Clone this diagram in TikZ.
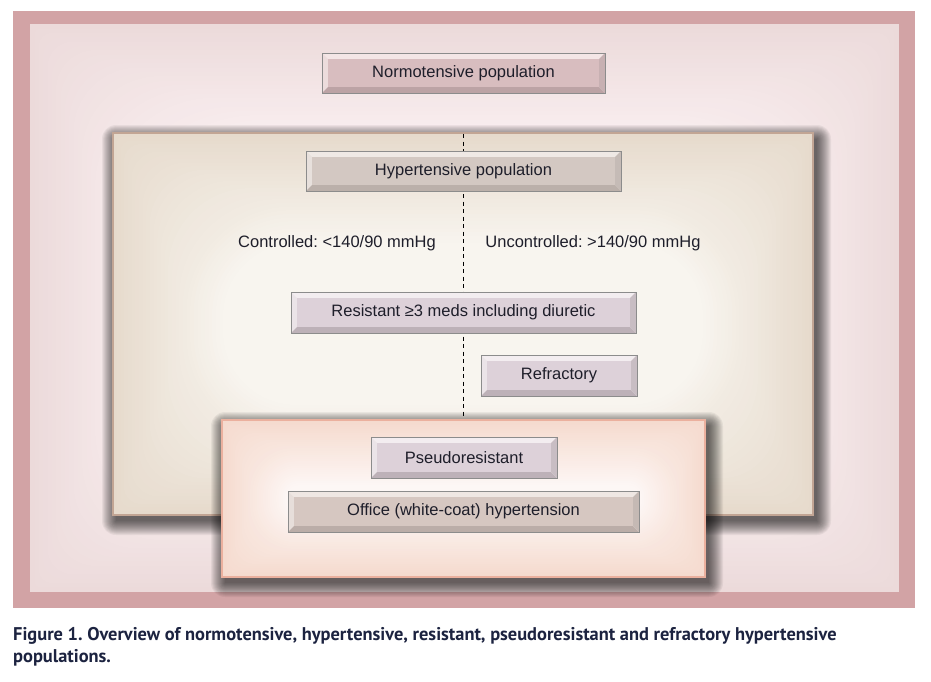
\documentclass[tikz,border=0pt]{standalone}
\usepackage{fontspec}
\setmainfont{Liberation Sans}
\newfontfamily\capfont{PT Sans}
\frenchspacing
\definecolor{framecol}{HTML}{D2A3A5}
\definecolor{bgedge}{HTML}{ECDADA}
\definecolor{bgmid}{HTML}{FBF2F4}
\definecolor{hypedge}{HTML}{E6DACC}
\definecolor{hypmid}{HTML}{F8F5EF}
\definecolor{hypline}{HTML}{C2A594}
\definecolor{psedge}{HTML}{F5DACE}
\definecolor{psmid}{HTML}{FDF7F5}
\definecolor{psline}{HTML}{EBB09E}
\definecolor{normin}{HTML}{D8BDBF}
\definecolor{normlt}{HTML}{F4E6E6}
\definecolor{normdk}{HTML}{BCA3A5}
\definecolor{hypin}{HTML}{D3C8C2}
\definecolor{hyplt}{HTML}{EFE9E5}
\definecolor{hypdk}{HTML}{BBB0AA}
\definecolor{resin}{HTML}{DDD1D9}
\definecolor{reslt}{HTML}{F3EDF0}
\definecolor{resdk}{HTML}{BDB1B8}
\definecolor{offin}{HTML}{D6C7C1}
\definecolor{offlt}{HTML}{EFE7E3}
\definecolor{offdk}{HTML}{BBADA8}
\definecolor{txt}{HTML}{1E1E2A}
\definecolor{captxt}{HTML}{1C2340}
\newcommand\softshadow[4]{%
  \foreach \k in {0,...,14}{
    \fill[black, opacity=0.05, rounded corners=\k pt]
      ({#1+3-\k},{#2+6-\k}) rectangle ({#3+4+\k},{#4+6+\k});
  }}
\tikzset{
  gradfill/.style n args={4}{
    path picture={
      \foreach \i in {0,...,30}{
        \pgfmathsetmacro\d{\i*#3/30}
        \pgfmathsetmacro\r{max(0,min(\d*1.5,0.9*(#4-\d)))}
        \pgfmathsetmacro\p{100-\i*100/30}
        \fill[#1!\p!#2, rounded corners=\r pt]
          ([shift={(\d pt,-\d pt)}]path picture bounding box.north west)
          rectangle ([shift={(-\d pt,\d pt)}]path picture bounding box.south east);
      }
    }
  },
  bev/.style n args={3}{
    draw=black!45, line width=0.8pt, inner sep=0pt, minimum height=41pt,
    text=txt, font=\fontsize{16.5}{19}\selectfont,
    path picture={
      \fill[#2] (path picture bounding box.north west) -- (path picture bounding box.north east)
        -- ([shift={(-6pt,-6pt)}]path picture bounding box.north east)
        -- ([shift={(6pt,-6pt)}]path picture bounding box.north west) -- cycle;
      \fill[#2!85!#3] (path picture bounding box.north west) -- (path picture bounding box.south west)
        -- ([shift={(6pt,6pt)}]path picture bounding box.south west)
        -- ([shift={(6pt,-6pt)}]path picture bounding box.north west) -- cycle;
      \fill[#3] (path picture bounding box.south west) -- (path picture bounding box.south east)
        -- ([shift={(-6pt,6pt)}]path picture bounding box.south east)
        -- ([shift={(6pt,6pt)}]path picture bounding box.south west) -- cycle;
      \fill[#3!80!#2] (path picture bounding box.north east) -- (path picture bounding box.south east)
        -- ([shift={(-6pt,6pt)}]path picture bounding box.south east)
        -- ([shift={(-6pt,-6pt)}]path picture bounding box.north east) -- cycle;
      \fill[#1] ([shift={(6pt,-6pt)}]path picture bounding box.north west)
        rectangle ([shift={(-6pt,6pt)}]path picture bounding box.south east);
    }
  },
  lbl/.style={text=txt, font=\fontsize{16.5}{19}\selectfont, inner sep=0pt},
  divider/.style={draw=black, line width=1.1pt, dash pattern=on 4pt off 3.5pt}
}
\begin{document}
\begin{tikzpicture}[x=1pt, y=-1pt]
\useasboundingbox (0,0) rectangle (931,681);
\fill[white] (0,0) rectangle (931,681);
% outer frame
\fill[framecol] (13,11) rectangle (915,608);
\path[gradfill={bgedge}{bgmid}{130}{284}] (30,24) rectangle (899,592);
% hypertensive panel
\softshadow{113}{133}{813}{515}
\node[draw=hypline, line width=1.3pt, fill=hypmid, gradfill={hypedge}{hypmid}{110}{191},
  minimum width=700pt, minimum height=382pt, inner sep=0pt] (hyp) at (463,324) {};
\coordinate (dtop) at (463.3,134);
\coordinate (dbot) at (463.3,419);
\draw[divider] (dtop) -- (dbot);
% pseudoresistant panel
\softshadow{222}{420}{705}{577}
\node[draw=psline, line width=1.3pt, fill=psmid, gradfill={psedge}{psmid}{65}{78},
  minimum width=483pt, minimum height=157pt, inner sep=0pt] (pspanel) at (463.5,498.5) {};
% boxes
\node[bev={normin}{normlt}{normdk}, minimum width=283pt, minimum height=40pt] (normo) at (463.5,73) {Normotensive population};
\node[bev={hypin}{hyplt}{hypdk}, minimum width=315pt, minimum height=40pt] (hypbox) at (463.5,171) {Hypertensive population};
\node[lbl] (ctrl) at (337,243) {Controlled: <140/90 mmHg};
\node[lbl] (unctrl) at (593,243) {Uncontrolled: >140/90 mmHg};
\node[bev={resin}{reslt}{resdk}, minimum width=345pt] (resist) at (463.5,312.5) {Resistant ≥3 meds including diuretic};
\node[bev={resin}{reslt}{resdk}, minimum width=156pt] (refr) at (559,375.5) {Refractory};
\node[bev={resin}{reslt}{resdk}, minimum width=186pt] (pseudo) at (464,457.5) {Pseudoresistant};
\node[bev={offin}{offlt}{offdk}, minimum width=351pt] (office) at (463.5,511.5) {Office (white-coat) hypertension};
% caption
\node[anchor=north west, inner sep=0pt, align=left, text=captxt,
  font=\capfont\bfseries\fontsize{18.4}{22}\selectfont] (cap) at (13,627)
  {Figure 1. Overview of normotensive, hypertensive, resistant, pseudoresistant and refractory hypertensive\\populations.};
\end{tikzpicture}
\end{document}
